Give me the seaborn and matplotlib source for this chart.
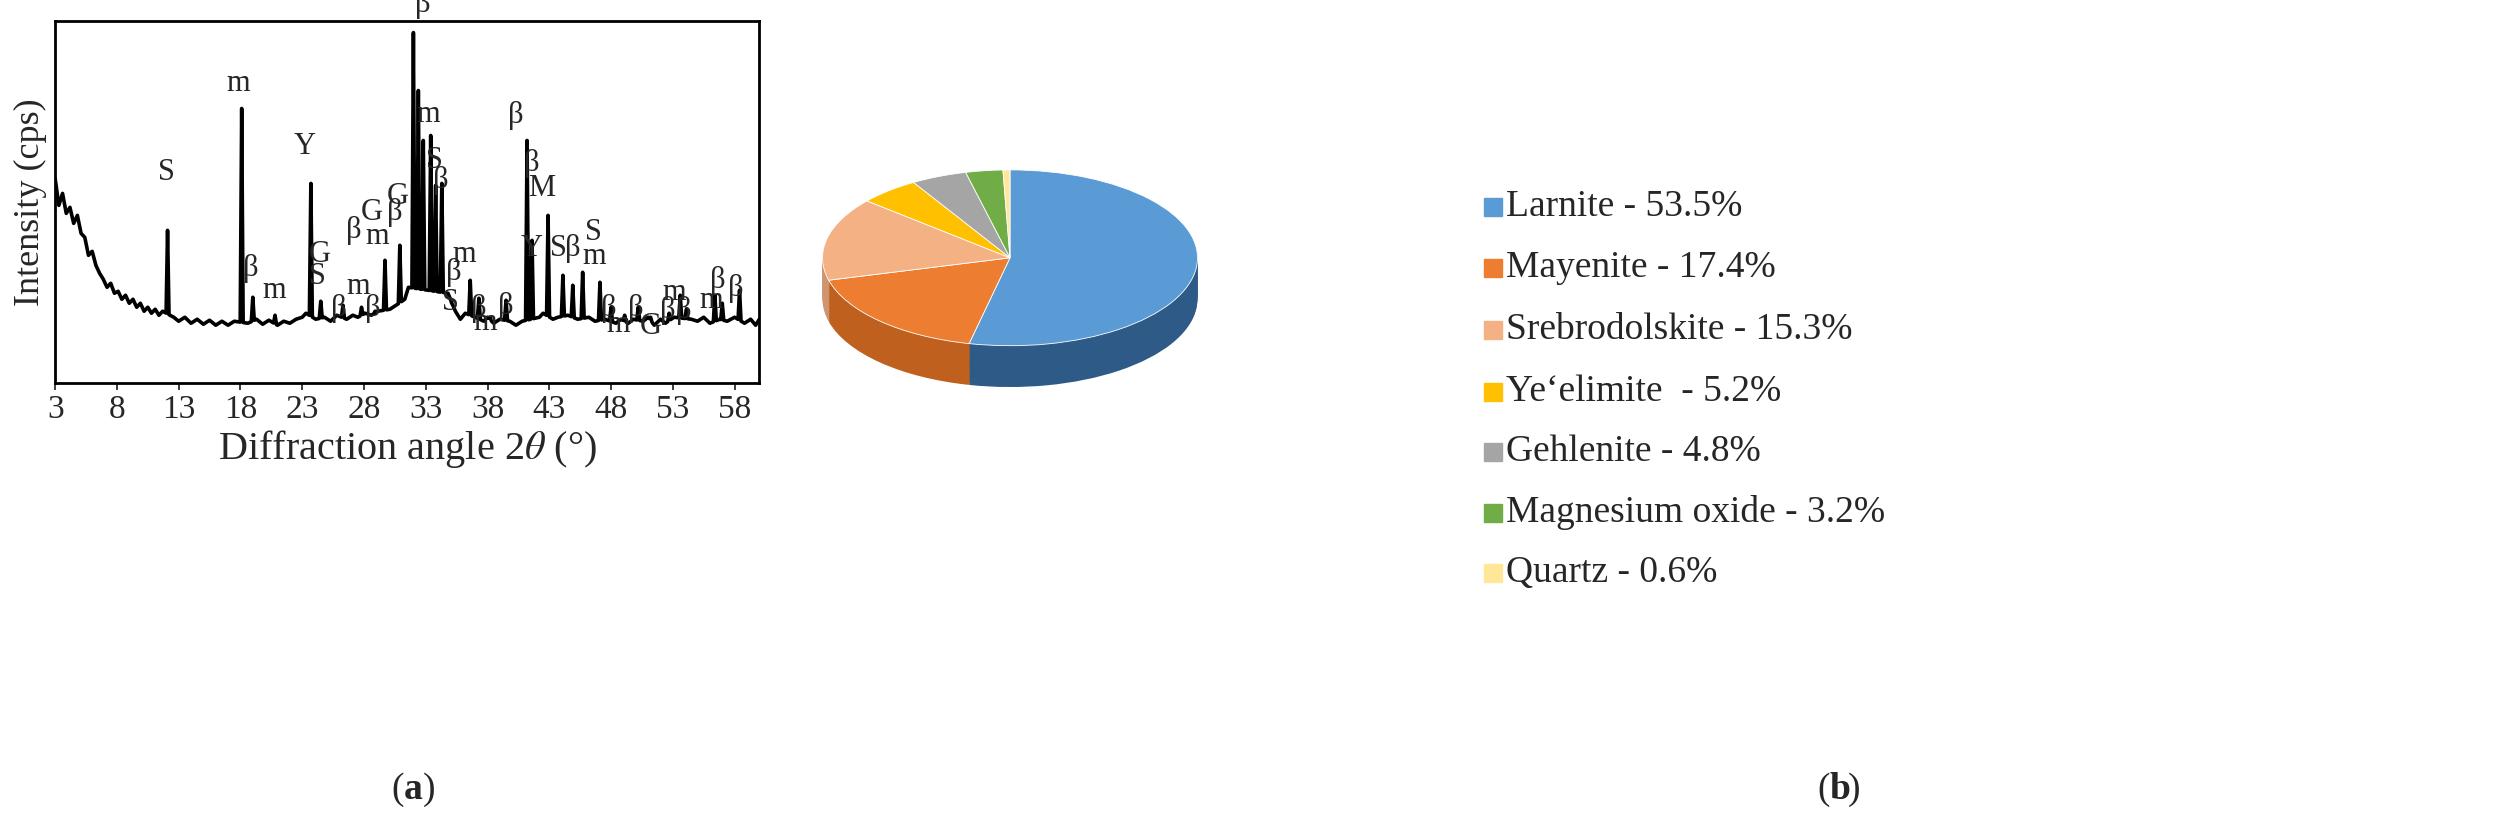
import numpy as np
import pandas as pd
import seaborn as sns
import matplotlib.pyplot as plt
from matplotlib.patches import Rectangle

sns.set_theme(style='white')
plt.rcParams['font.family'] = ['Liberation Serif', 'DejaVu Serif']
plt.rcParams['mathtext.fontset'] = 'stix'

# ---------------- XRD data ----------------
# background trace, 2theta vs intensity (arbitrary units)
bg_x = [3.0, 3.3, 3.6, 3.9, 4.2, 4.5, 4.8, 5.1, 5.4, 5.7, 6.0, 6.3, 6.6, 6.9, 7.2, 7.5, 7.8,
        8.1, 8.4, 8.7, 9.0, 9.3, 9.6, 9.9, 10.2, 10.5, 10.8, 11.1, 11.4, 11.7, 12.6, 13.0,
        13.5, 14.0, 14.5, 15.0, 15.5, 16.0, 16.5, 17.0, 17.5, 18.6, 19.3, 19.8, 20.3, 21.0,
        21.5, 22.0, 22.5, 23.0, 23.3, 24.1, 24.8, 25.3, 25.8, 26.6, 27.1, 27.5, 28.1, 28.6,
        29.1, 30.1, 30.6, 31.3, 31.6, 34.8, 35.4, 35.8, 36.2, 37.0, 37.7, 38.0, 38.5, 39.0,
        39.8, 40.3, 40.8, 42.2, 42.5, 43.3, 43.7, 44.5, 45.3, 46.2, 46.7, 47.5, 48.4, 48.8,
        49.4, 49.8, 50.6, 51.0, 51.5, 52.0, 52.4, 53.1, 54.5, 55.0, 55.5, 56.0, 56.8, 57.4,
        58.0, 58.8, 59.3, 59.7, 60.0]
bg_y = [205, 178, 190, 170, 176, 160, 168, 150, 146, 128, 132, 118, 110, 104, 96, 100, 90,
        92, 84, 88, 80, 84, 76, 80, 72, 76, 70, 74, 68, 72, 66, 62, 66, 60, 64, 59, 63, 58,
        62, 58, 62, 60, 64, 59, 63, 58, 62, 60, 64, 66, 70, 64, 66, 62, 68, 64, 68, 66, 70,
        68, 72, 74, 78, 84, 96, 90, 72, 64, 70, 66, 62, 66, 60, 64, 62, 58, 62, 66, 70, 64,
        66, 68, 64, 66, 62, 64, 60, 64, 60, 64, 62, 66, 58, 64, 60, 66, 64, 62, 66, 60, 64,
        62, 66, 60, 64, 58, 64]

peak_pos = [12.1, 18.1, 19.0, 20.8, 23.7, 24.5, 26.3, 27.8, 28.9, 29.7, 30.9, 32.0, 32.4,
            32.8, 33.4, 33.8, 34.3, 35.1, 36.6, 37.3, 38.2, 39.5, 41.2, 41.6, 42.9, 44.1,
            44.9, 45.7, 47.1, 48.0, 49.1, 50.2, 51.2, 52.7, 53.6, 54.1, 56.4, 57.0, 58.4]
peak_height = [153, 275, 86, 68, 200, 82, 78, 76, 72, 123, 138, 351, 293, 243, 248, 198,
               200, 80, 103, 85, 66, 83, 243, 143, 168, 108, 98, 111, 101, 76, 68, 76, 66,
               70, 88, 74, 88, 80, 93]

peak_labels = ['S', 'm', 'β', 'm', 'Y', 'G', 'S', 'β', 'm', 'β', 'G', 'm', 'β', 'β', 'G',
               'β', 'm', 'S', 'β', 'β', 'S', 'm', 'β', 'm', 'β', 'β', 'β', 'Y', 'M', 'S',
               'β', 'm', 'S', 'β', 'm', 'β', 'G', 'β', 'm', 'β', 'm', 'β', 'β']
label_x = [12.0, 17.8, 18.8, 20.7, 23.2, 24.4, 24.2, 26.0, 27.5, 27.2, 28.6, 29.1, 28.7,
           30.5, 30.7, 32.8, 33.2, 33.7, 34.2, 35.3, 35.0, 36.1, 37.3, 37.8, 39.5, 40.3,
           41.6, 41.6, 42.4, 43.7, 44.9, 46.6, 46.6, 47.8, 48.6, 50.0, 51.2, 52.6, 53.1,
           53.9, 56.1, 56.6, 58.1]
label_y = [196, 286, 100, 78, 222, 114, 92, 60, 82, 138, 156, 132, 60, 156, 172, 365, 254,
           208, 188, 96, 66, 114, 60, 46, 62, 253, 205, 120, 180, 120, 120, 112, 136, 60,
           44, 60, 42, 58, 76, 58, 68, 88, 80]

x_ticks = [3, 8, 13, 18, 23, 28, 33, 38, 43, 48, 53, 58]

# ---------------- phase composition ----------------
phases = ['Larnite - 53.5%', 'Mayenite - 17.4%', 'Srebrodolskite - 15.3%',
          'Ye\u2018elimite  - 5.2%', 'Gehlenite - 4.8%', 'Magnesium oxide - 3.2%',
          'Quartz - 0.6%']
fractions = [53.5, 17.4, 15.3, 5.2, 4.8, 3.2, 0.6]
top_colors = ['#5B9BD5', '#ED7D31', '#F4B183', '#FFC000', '#A5A5A5', '#70AD47', '#FFE699']
side_colors = ['#2E5A88', '#C0601E', '#D09470', '#CC9A00', '#848484', '#568A36', '#D9C47E']

# build the spectrum: background plus sharp peaks
bg_interp = lambda x: np.interp(x, bg_x, bg_y)
pts = list(zip(bg_x, bg_y))
for p, h in zip(peak_pos, peak_height):
    pts += [(p - 0.12, bg_interp(p - 0.12)), (p, h), (p + 0.12, bg_interp(p + 0.12))]
spec = pd.DataFrame(sorted(pts), columns=['angle', 'intensity'])

fig = plt.figure(figsize=(25.06, 8.24), dpi=100)

# ---------------- (a) XRD ----------------
ax = fig.add_axes([0.022, 0.535, 0.281, 0.44])
sns.lineplot(data=spec, x='angle', y='intensity', color='black', lw=2.6, ax=ax,
             sort=False)
ax.set_xlim(3, 60)
ax.set_ylim(0, 363)
ax.set_xticks(x_ticks)
ax.set_yticks([])
ax.tick_params(axis='x', labelsize=24, length=5, direction='out', bottom=True)
for s in ax.spines.values():
    s.set_color('black')
    s.set_linewidth(2)
ax.set_xlabel('Diffraction angle 2$\\mathit{\\theta}$ (°)', fontsize=29, labelpad=2)
ax.set_ylabel('Intensity (cps)', fontsize=26, labelpad=6)
for t, x, y in zip(peak_labels, label_x, label_y):
    ax.text(x, y, t, fontsize=22, ha='center', va='bottom')

fig.text(0.161, 0.03, '(', fontsize=27, ha='right')
fig.text(0.161, 0.03, 'a', fontsize=27, fontweight='bold', ha='left')
fig.text(0.1685, 0.03, ')', fontsize=27, ha='left')

# ---------------- (b) pie ----------------
pax = fig.add_axes([800 / 2506, 444 / 824, 420 / 2506, 240 / 824])
depth = 0.47
layers = 24
for i in range(layers, 0, -1):
    pax.pie(fractions, colors=side_colors, startangle=90, counterclock=False,
            center=(0, -depth * i / layers), wedgeprops=dict(linewidth=0))
pax.pie(fractions, colors=top_colors, startangle=90, counterclock=False,
        wedgeprops=dict(linewidth=0.6, edgecolor='white'))
pax.set_aspect('auto')
pax.set_xlim(-1.12, 1.12)
pax.set_ylim(-1.39, 1.34)
pax.axis('off')

# legend
lax = fig.add_axes([0.584, 0.0, 0.4, 1.0])
lax.set_xlim(0, 1)
lax.set_ylim(824, 0)
lax.axis('off')
leg_y = [207, 268, 330, 392, 452, 513, 573]
for name, c, y in zip(phases, top_colors, leg_y):
    lax.add_patch(Rectangle((0.02, y - 9), 0.018, 18, color=c))
    lax.text(0.042, y, name, fontsize=27, va='center')

fig.text(0.730, 0.03, '(', fontsize=27, ha='right')
fig.text(0.730, 0.03, 'b', fontsize=27, fontweight='bold', ha='left')
fig.text(0.7375, 0.03, ')', fontsize=27, ha='left')

fig.savefig('out.png', dpi=100)
